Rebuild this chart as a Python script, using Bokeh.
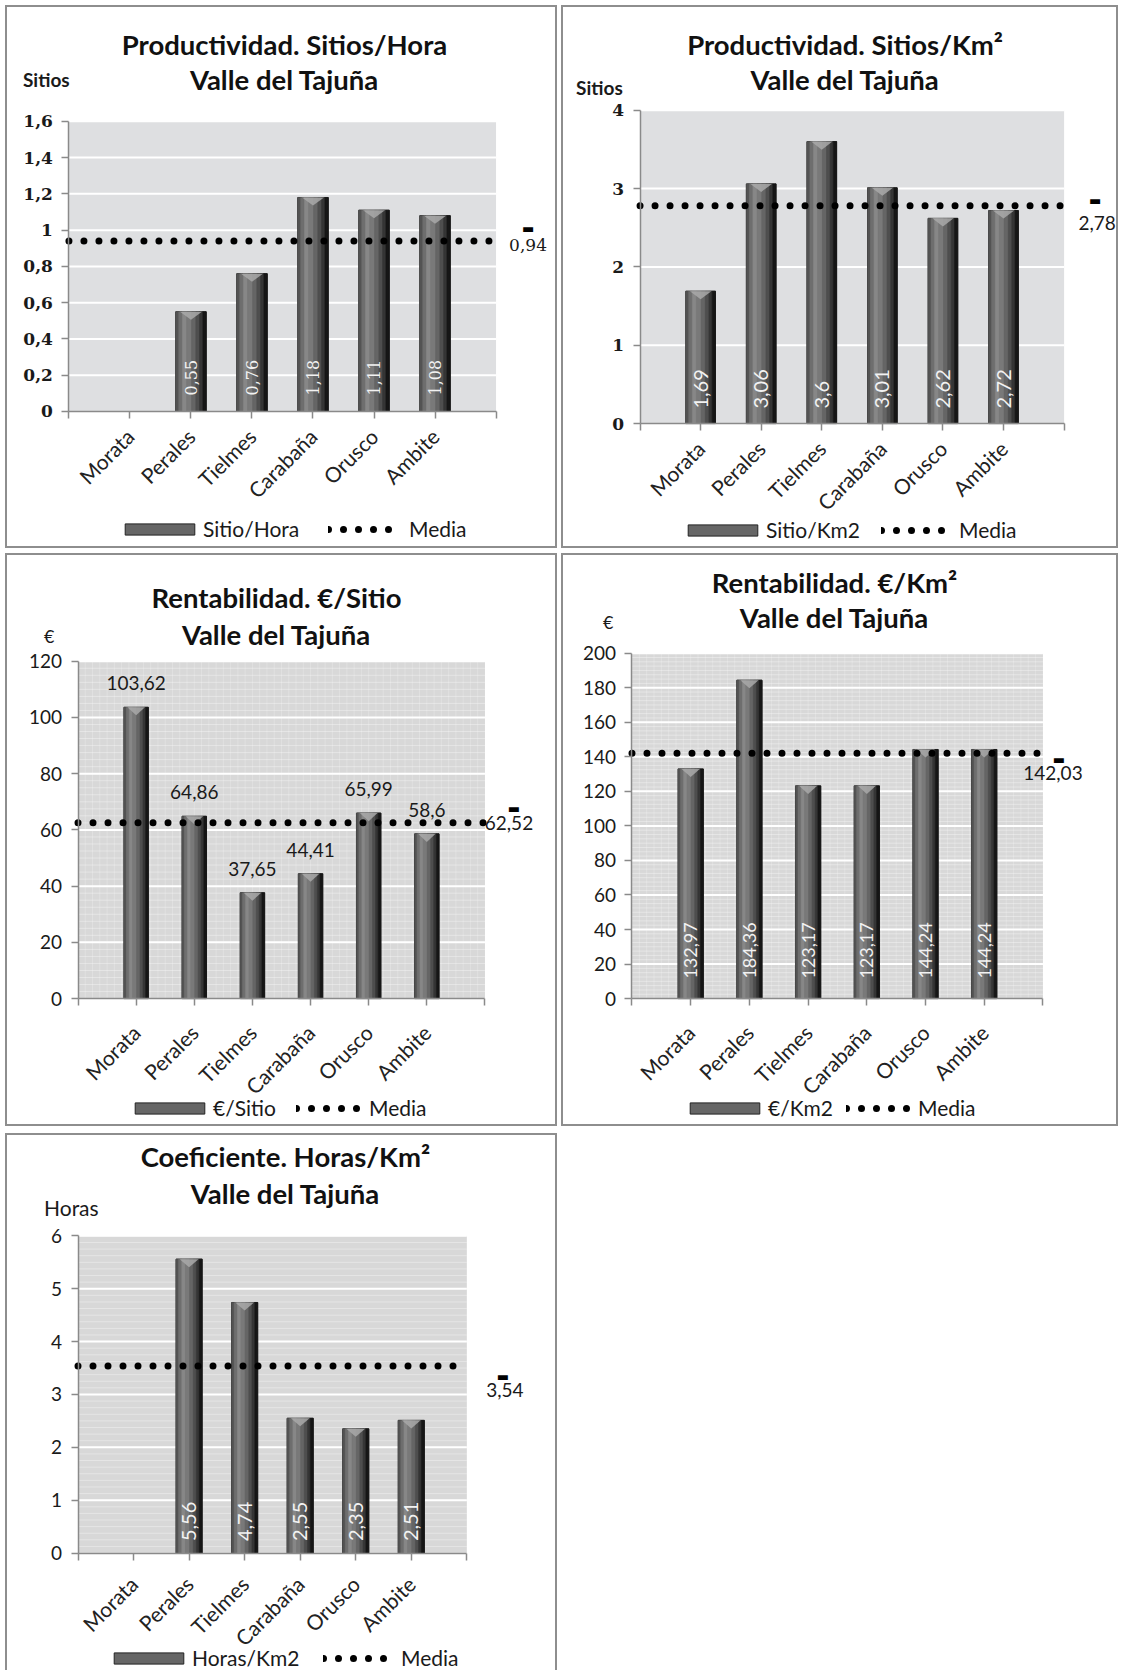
import math
import numpy as np
from bokeh.plotting import figure
from bokeh.layouts import column, row
from bokeh.models import (ColumnDataSource, Range1d, FixedTicker, Label, Legend,
                          LegendItem, CustomJSTickFormatter)
from bokeh.transform import dodge
from bokeh.embed import file_html
from bokeh.resources import INLINE
from bokeh.core.properties import value

# ---------------- data ----------------
categories = ["Morata", "Perales", "Tielmes", "Carabaña", "Orusco", "Ambite"]

sitios_hora = [None, 0.55, 0.76, 1.18, 1.11, 1.08]
sitios_hora_media = 0.94
sitios_hora_ticks = [0, 0.2, 0.4, 0.6, 0.8, 1.0, 1.2, 1.4, 1.6]

sitios_km2 = [1.69, 3.06, 3.6, 3.01, 2.62, 2.72]
sitios_km2_media = 2.78
sitios_km2_ticks = [0, 1, 2, 3, 4]

euro_sitio = [103.62, 64.86, 37.65, 44.41, 65.99, 58.6]
euro_sitio_media = 62.52
euro_sitio_ticks = [0, 20, 40, 60, 80, 100, 120]

euro_km2 = [132.97, 184.36, 123.17, 123.17, 144.24, 144.24]
euro_km2_media = 142.03
euro_km2_ticks = [0, 20, 40, 60, 80, 100, 120, 140, 160, 180, 200]

horas_km2 = [None, 5.56, 4.74, 2.55, 2.35, 2.51]
horas_km2_media = 3.54
horas_km2_ticks = [0, 1, 2, 3, 4, 5, 6]

titles = ["Productividad. Sitios/Hora", "Productividad. Sitios/Km²",
          "Rentabilidad. €/Sitio", "Rentabilidad. €/Km²", "Coeficiente. Horas/Km²"]
subtitle = "Valle del Tajuña"
units = ["Sitios", "Sitios", "€", "€", "Horas"]
series_names = ["Sitio/Hora", "Sitio/Km2", "€/Sitio", "€/Km2", "Horas/Km2"]
media_name = "Media"


def fmt(v):
    return f"{v:g}".replace(".", ",")


# ---------------- styles ----------------
SANS = "Lato"
SERIF = "DejaVu Serif"
BORDER = "2px solid #8e8e8e"

STRIPS = [(0.00, 0.10, "#535353"), (0.10, 0.22, "#6e6e6e"), (0.22, 0.36, "#878787"),
          (0.36, 0.52, "#797979"), (0.52, 0.66, "#656565"), (0.66, 0.78, "#4e4e4e"),
          (0.78, 0.89, "#353535"), (0.89, 1.00, "#161616")]

# geometry: W, H of the drawing box (inside the border);
# plot area L, R, T, B in px from that box's top-left
panels = [
    dict(vals=sitios_hora, media=sitios_hora_media, ticks=sitios_hora_ticks,
         title=titles[0], unit=units[0], series=series_names[0],
         W=548, H=539, bh=4, L=61, R=485, T=113, B=401, margin=(5, 0, 0, 5),
         styles={"border": BORDER},
         bg="#dedfe1", tick_font=SERIF, tick_size="17px", tick_style="bold",
         bw=0.5, inside=True, in_font=SERIF, in_size="16px", in_off=16,
         minor=False, vtex=False, xstand=14,
         title_dx=2, t1_dy=77, t2_dy=42,
         unit_style="bold", unit_size="19px", unit_dx=-46, unit_dy=42,
         media_font=SERIF, media_size="17px", m_dx=32, m_dy=-4, d_dx=32, d_dy=13,
         leg=(109, 9), leg2=(321, 9, 13)),
    dict(vals=sitios_km2, media=sitios_km2_media, ticks=sitios_km2_ticks,
         title=titles[1], unit=units[1], series=series_names[1],
         W=553, H=539, bh=4, L=76, R=497, T=102, B=413, margin=(5, 0, 0, 4),
         styles={"border": BORDER},
         bg="#dedfe1", tick_font=SERIF, tick_size="17px", tick_style="bold",
         bw=0.49, inside=True, in_font=SANS, in_size="20px", in_off=15,
         minor=False, vtex=False, xstand=14,
         title_dx=-7, t1_dy=66, t2_dy=31,
         unit_style="bold", unit_size="19px", unit_dx=-64, unit_dy=23,
         media_font=SANS, media_size="19px", m_dx=33, m_dy=-17, d_dx=31, d_dy=5,
         leg=(116, 8), leg2=(318, 8, 10)),
    dict(vals=euro_sitio, media=euro_sitio_media, ticks=euro_sitio_ticks,
         title=titles[2], unit=units[2], series=series_names[2],
         W=548, H=569, bh=4, L=70, R=474, T=105, B=440, margin=(5, 0, 0, 5),
         styles={"border": BORDER},
         bg="#d8d8d8", tick_font=SANS, tick_size="19px", tick_style="normal",
         bw=0.42, inside=False, in_font=SANS, in_size="19px", in_off=24,
         minor=True, vtex=True, xstand=23,
         title_dx=-5, t1_dy=64, t2_dy=27,
         unit_style="normal", unit_size="18px", unit_dx=-34, unit_dy=25,
         media_font=SANS, media_size="19px", m_dx=24, m_dy=0, d_dx=29, d_dy=14,
         leg=(119, 8), leg2=(289, 8, 5)),
    dict(vals=euro_km2, media=euro_km2_media, ticks=euro_km2_ticks,
         title=titles[3], unit=units[3], series=series_names[3],
         W=553, H=569, bh=4, L=68, R=476, T=97, B=440, margin=(5, 0, 0, 4),
         styles={"border": BORDER},
         bg="#d8d8d8", tick_font=SANS, tick_size="19px", tick_style="normal",
         bw=0.43, inside=True, in_font=SANS, in_size="18px", in_off=20,
         minor=True, vtex=True, xstand=23,
         title_dx=-3, t1_dy=71, t2_dy=36,
         unit_style="normal", unit_size="18px", unit_dx=-29, unit_dy=31,
         media_font=SANS, media_size="19px", m_dx=10, m_dy=-20, d_dx=16, d_dy=-6,
         leg=(118, 8), leg2=(283, 8, 4)),
    dict(vals=horas_km2, media=horas_km2_media, ticks=horas_km2_ticks,
         title=titles[4], unit=units[4], series=series_names[4],
         W=548, H=535, bh=2, L=70, R=456, T=100, B=416, margin=(7, 0, 0, 5),
         styles={"border": BORDER, "border-bottom": "none"},
         bg="#d8d8d8", tick_font=SANS, tick_size="19px", tick_style="normal",
         bw=0.47, inside=True, in_font=SANS, in_size="20px", in_off=12,
         minor=True, vtex=False, xstand=20,
         title_dx=13, t1_dy=79, t2_dy=42,
         unit_style="normal", unit_size="21px", unit_dx=-34, unit_dy=28,
         media_font=SANS, media_size="19px", m_dx=38, m_dy=-24, d_dx=36, d_dy=-11,
         leg=(98, 2), leg2=(316, 2, 10)),
]


def make_panel(cfg):
    n = len(categories)
    ymax = cfg["ticks"][-1]
    W, H, L, R, T, B = cfg["W"], cfg["H"], cfg["L"], cfg["R"], cfg["T"], cfg["B"]
    sx = (R - L) / (n + 1)
    sy = (B - T) / ymax
    x_range = Range1d(-L / sx, (n + 1) + (W - R) / sx)
    y_range = Range1d(-(H - B) / sy, ymax + T / sy)

    p = figure(width=W + 4, height=H + cfg["bh"], x_range=x_range, y_range=y_range,
               output_backend="svg", toolbar_location=None,
               min_border=0, background_fill_color="white", border_fill_color="white",
               outline_line_color=None, margin=cfg["margin"], styles=cfg["styles"])
    p.xgrid.visible = False
    p.ygrid.visible = False

    # plot-area background
    p.quad(left=[0], right=[n + 1], bottom=[0], top=[ymax],
           fill_color=cfg["bg"], line_color=None)

    # grid lines (white) and background texture
    t = cfg["ticks"]
    if cfg["minor"]:
        minors = list(np.linspace(t[0], t[-1], (len(t) - 1) * 8 + 1))
        p.segment(x0=0, x1=n + 1, y0=minors, y1=minors, line_color="white",
                  line_alpha=0.35, line_width=1)
    if cfg["vtex"]:
        vx = list(np.arange(0.125, n + 1, 0.125))
        p.segment(x0=vx, x1=vx, y0=0, y1=ymax, line_color="white",
                  line_alpha=0.22, line_width=1)
    p.segment(x0=0, x1=n + 1, y0=t[1:], y1=t[1:], line_color="white", line_width=2)

    # axes at fixed locations
    p.xaxis.fixed_location = 0
    p.yaxis.fixed_location = 0
    p.xaxis.bounds = (0, n + 1)
    p.yaxis.bounds = (0, ymax)
    p.xaxis.ticker = FixedTicker(ticks=list(range(0, n + 2)))
    overrides = {0: "", n + 1: ""}
    for i, c in enumerate(categories):
        overrides[i + 1] = c
    p.xaxis.major_label_overrides = overrides
    p.xaxis.major_label_orientation = math.pi / 4
    p.xaxis.major_label_text_font = SANS
    p.xaxis.major_label_text_font_size = "21px"
    p.xaxis.major_label_text_color = "#222222"
    p.xaxis.major_label_standoff = cfg["xstand"]
    p.xaxis.major_tick_out = 7
    p.xaxis.major_tick_in = 0

    p.yaxis.ticker = FixedTicker(ticks=t)
    p.yaxis.formatter = CustomJSTickFormatter(
        code="return String(Math.round(tick*100)/100).replace('.', ',');")
    p.yaxis.major_label_text_font = cfg["tick_font"]
    p.yaxis.major_label_text_font_size = cfg["tick_size"]
    p.yaxis.major_label_text_font_style = cfg["tick_style"]
    p.yaxis.major_label_text_color = "#1a1a1a"
    p.yaxis.major_label_standoff = 9
    p.yaxis.major_tick_out = 7
    p.yaxis.major_tick_in = 0

    for ax in (p.xaxis, p.yaxis):
        ax.axis_line_color = "#8a8a8a"
        ax.axis_line_width = 1.5
        ax.major_tick_line_color = "#8a8a8a"
        ax.major_tick_line_width = 1.5
        ax.minor_tick_line_color = None

    # data source (skip missing values)
    xs, tops, labels = [], [], []
    for i, v in enumerate(cfg["vals"]):
        if v is None:
            continue
        xs.append(i + 1)
        tops.append(v)
        labels.append(fmt(v))
    src = ColumnDataSource(dict(x=xs, top=tops, label=labels, zero=[0] * len(xs)))

    bw = cfg["bw"]
    base = p.vbar(x="x", top="top", bottom=0, width=bw, source=src,
                  fill_color="#666666", line_color="#222222", line_width=1)
    for f0, f1, c in STRIPS:
        p.vbar(x=dodge("x", (f0 + f1) / 2 * bw - bw / 2), top="top", bottom=0,
               width=(f1 - f0) * bw, source=src, fill_color=c, line_color=c,
               line_width=0.6)
    # cap highlight (V shape at the top of each cylinder)
    depth = 8 / sy
    half = 0.36 * bw
    cap_xs = [[x - half, x + half, x] for x in xs]
    cap_ys = [[tp, tp, tp - depth] for tp in tops]
    p.patches(cap_xs, cap_ys, fill_color="#a9a9a9", line_color=None, fill_alpha=0.85)

    # value labels
    if cfg["inside"]:
        p.text(x="x", y="zero", text="label", source=src, angle=math.pi / 2,
               text_align="left", text_baseline="middle", y_offset=-cfg["in_off"],
               text_color="#f2f2f2", text_font=value(cfg["in_font"]),
               text_font_size=cfg["in_size"])
    else:
        p.text(x="x", y="top", text="label", source=src,
               text_align="center", text_baseline="middle", y_offset=-cfg["in_off"],
               text_color="#1a1a1a", text_font=value(cfg["in_font"]),
               text_font_size=cfg["in_size"])

    # media line (round dots)
    media = cfg["media"]
    mline = p.line(x=[0, n + 1], y=[media, media], line_color="black",
                   line_width=7, line_dash="0 15", line_cap="round")

    # media value label with key dash
    p.add_layout(Label(x=n + 1, y=media, x_offset=cfg["m_dx"], y_offset=cfg["m_dy"],
                       text=fmt(media), text_align="center", text_baseline="middle",
                       text_font=cfg["media_font"], text_font_size=cfg["media_size"],
                       text_color="#1a1a1a"))
    p.add_layout(Label(x=n + 1, y=media, x_offset=cfg["d_dx"], y_offset=cfg["d_dy"],
                       text="▬", text_align="center", text_baseline="middle",
                       text_font="DejaVu Sans", text_font_size="13px",
                       text_color="black"))

    # titles
    xc = (n + 1) / 2
    p.add_layout(Label(x=xc, y=ymax, x_offset=cfg["title_dx"], y_offset=cfg["t1_dy"],
                       text=cfg["title"], text_align="center", text_baseline="middle",
                       text_font=SANS, text_font_style="bold", text_font_size="27.5px",
                       text_color="#111111"))
    p.add_layout(Label(x=xc, y=ymax, x_offset=cfg["title_dx"], y_offset=cfg["t2_dy"],
                       text=subtitle, text_align="center", text_baseline="middle",
                       text_font=SANS, text_font_style="bold", text_font_size="27.5px",
                       text_color="#111111"))
    # unit label
    p.add_layout(Label(x=0, y=ymax, x_offset=cfg["unit_dx"], y_offset=cfg["unit_dy"],
                       text=cfg["unit"], text_align="left", text_baseline="middle",
                       text_font=SANS, text_font_style=cfg["unit_style"],
                       text_font_size=cfg["unit_size"], text_color="#1a1a1a"))

    common = dict(orientation="horizontal", glyph_height=14, padding=0, margin=0,
                  border_line_color=None, background_fill_alpha=0,
                  label_text_font=SANS, label_text_font_size="21px",
                  label_text_color="#1a1a1a", label_text_baseline="middle")
    leg_bar = Legend(items=[LegendItem(label=cfg["series"], renderers=[base])],
                     location=cfg["leg"], glyph_width=87, label_standoff=0, **common)
    lx, ly, ls = cfg["leg2"]
    leg_media = Legend(items=[LegendItem(label=media_name, renderers=[mline])],
                       location=(lx, ly), glyph_width=68, label_standoff=ls, **common)
    p.add_layout(leg_bar)
    p.add_layout(leg_media)
    return p


figs = [make_panel(c) for c in panels]
root = column(row(figs[0], figs[1]), row(figs[2], figs[3]), figs[4])

html = file_html(root, INLINE, title="Valle del Tajuña")
html = html.replace("<head>", "<head><style>html,body{margin:0;padding:0;}</style>", 1)
open("out.html", "w").write(html)
